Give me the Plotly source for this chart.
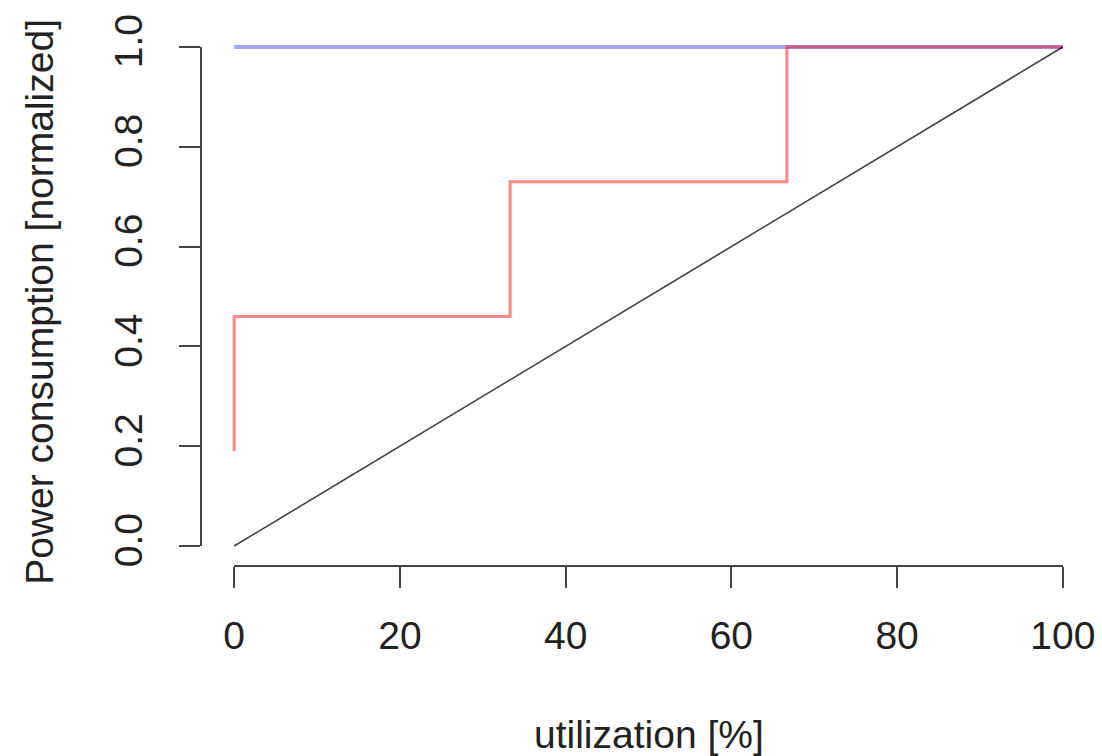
import plotly.graph_objects as go

# data
util_diag = [0, 100]
power_diag = [0, 1]

util_const = [0, 100]
power_const = [1, 1]

util_step = [0, 0, 33.3, 33.3, 66.7, 66.7, 100]
power_step = [0.19, 0.46, 0.46, 0.73, 0.73, 1.0, 1.0]

x_ticks = [0, 20, 40, 60, 80, 100]
y_ticks = [0.0, 0.2, 0.4, 0.6, 0.8, 1.0]

FONT = "Liberation Sans, Arial, Helvetica, sans-serif"
FS = 39

fig = go.Figure()
fig.add_trace(go.Scatter(x=util_const, y=power_const, mode="lines",
                         line=dict(color="rgba(0,0,255,0.36)", width=4), showlegend=False))
fig.add_trace(go.Scatter(x=util_step, y=power_step, mode="lines",
                         line=dict(color="rgba(255,0,0,0.47)", width=3), showlegend=False))
fig.add_trace(go.Scatter(x=util_diag, y=power_diag, mode="lines",
                         line=dict(color="rgba(0,0,0,0.75)", width=1.6), showlegend=False))
# dummy trace to render the display axes
fig.add_trace(go.Scatter(x=[0], y=[0], xaxis="x2", yaxis="y2", mode="markers",
                         marker=dict(opacity=0), showlegend=False, hoverinfo="skip"))

d = [4 / 108, 104 / 108]
fig.update_layout(
    width=1102, height=756,
    margin=dict(l=201, r=6, t=27, b=190),
    paper_bgcolor="white", plot_bgcolor="rgba(0,0,0,0)",
    font=dict(family=FONT, size=FS, color="black"),
    xaxis=dict(range=[-4, 104], showgrid=False, zeroline=False, showline=False,
               showticklabels=False, ticks="", automargin=False),
    yaxis=dict(range=[-0.04, 1.04], showgrid=False, zeroline=False, showline=False,
               showticklabels=False, ticks="", automargin=False),
    xaxis2=dict(domain=d, range=[0, 100], anchor="free", position=0,
                showgrid=False, zeroline=False, showline=True, linecolor="#444", linewidth=2,
                ticks="outside", ticklen=21, tickwidth=2, tickcolor="#444", automargin=False,
                tickvals=x_ticks, ticktext=[str(v) for v in x_ticks],
                tickfont=dict(family=FONT, size=FS, color="#222"), ticklabelstandoff=14),
    yaxis2=dict(domain=d, range=[0, 1], anchor="free", position=0,
                showgrid=False, zeroline=False, showline=True, linecolor="#444", linewidth=2,
                ticks="outside", ticklen=21, tickwidth=2, tickcolor="#444", automargin=False,
                tickvals=y_ticks, ticktext=[f"{v:.1f}" for v in y_ticks], tickangle=-90,
                tickfont=dict(family=FONT, size=FS, color="#222"), ticklabelstandoff=21),
    annotations=[
        dict(text="utilization [%]", xref="paper", yref="paper", x=0.5, y=-0.3135,
             xanchor="center", yanchor="middle", showarrow=False,
             font=dict(family=FONT, size=FS, color="#222")),
        dict(text="Power consumption [normalized]", xref="paper", yref="paper",
             x=-0.18, y=0.49, xanchor="center", yanchor="middle", textangle=-90,
             showarrow=False, font=dict(family=FONT, size=FS, color="#222")),
    ],
)

fig.write_html("out.html", config={"displayModeBar": False},
               post_script="document.body.style.margin='0';document.body.style.overflow='hidden';")
